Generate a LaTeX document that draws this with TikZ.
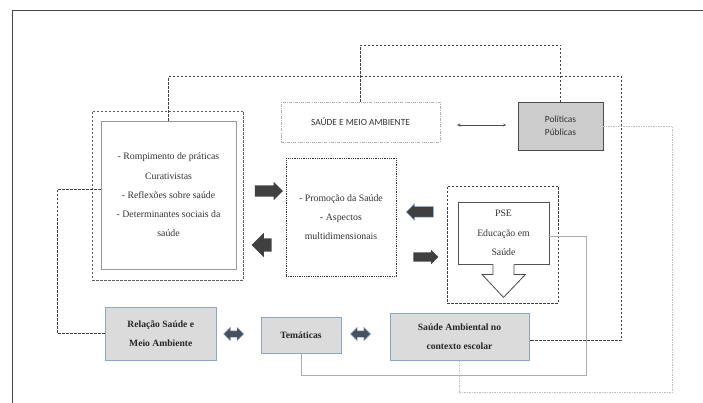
\documentclass[tikz,border=0pt]{standalone}
\usepackage{fontspec}
\setmainfont{Liberation Serif}
\newfontfamily\calfont{Carlito}
\usetikzlibrary{shapes.arrows}
\definecolor{txtgray}{HTML}{333333}
\definecolor{bluegray}{HTML}{8EA6C4}
\definecolor{slate}{HTML}{46505E}
\begin{document}
\begin{tikzpicture}[x=1pt,y=-1pt,
		solidbox/.style={draw=gray!80,line width=0.8pt,inner sep=0pt},
		outerbox/.style={draw=gray!75!black,dashed,dash pattern=on 2.5pt off 1.5pt,inner sep=0pt},
		textbox/.style={align=center,text=txtgray,font=\fontsize{9.8}{19.3}\selectfont},
		graybox/.style={draw=bluegray,fill=gray!28,line width=1pt,inner sep=0pt,align=center,
			font=\fontsize{9.6}{19}\selectfont\bfseries,text=black!85},
		linkdash/.style={black!75,dashed,dash pattern=on 2.5pt off 1.5pt},
		fatarrow/.style={single arrow,fill=black!75,inner xsep=0pt,single arrow head indent=0pt},
		twoarrow/.style={double arrow,fill=slate,draw=bluegray,line width=0.4pt,inner xsep=0pt,
			minimum height=20pt,inner ysep=3pt,double arrow head extend=3.5pt}]
	\useasboundingbox (0,0) rectangle (703,403);
	% frame
	\draw[gray!55!black,line width=0.8pt] (12.3,403) -- (12.3,10.3) -- (703,10.3);

	% left column
	\node[outerbox,minimum width=151pt,minimum height=169pt] (outA) at (167.7,195.3) {};
	\node[solidbox,textbox,minimum width=135pt,minimum height=148pt] (inA) at (168.5,195)
		{- Rompimento de práticas\\Curativistas\\- Reflexões sobre saúde\\- Determinantes sociais da\\saúde};

	% top row
	\node[draw=gray!60,dash pattern=on 3pt off 1.2pt on 0.8pt off 1.2pt,inner sep=0pt,
		minimum width=159pt,minimum height=40pt,text=black!80,font=\calfont\fontsize{9.4}{12}\selectfont]
		(sma) at (360.5,122) {SAÚDE E MEIO AMBIENTE};
	\node[draw=gray!60!black,fill=gray!40,line width=0.8pt,inner sep=0pt,align=center,
		minimum width=85pt,minimum height=48pt,text=black!80,font=\calfont\fontsize{9.4}{12.5}\selectfont]
		(pol) at (560.5,126) {Políticas\\Públicas};
	\draw[black!70,<->,>=stealth] (sma.east) ++(17,3) coordinate (d1) -- ++(49,0) coordinate (d2);

	% middle
	\node[draw=black!80,dash pattern=on 1pt off 0.8pt,textbox,inner sep=0pt,
		minimum width=110pt,minimum height=118pt] (promo) at (341,217)
		{- Promoção da Saúde\\- Aspectos\\multidimensionais};

	\node[outerbox,draw=black!75,minimum width=111pt,minimum height=117pt] (outPSE) at (502.5,244.5) {};
	\node[solidbox,draw=gray!65!black,textbox,minimum width=91pt,minimum height=62pt] (inPSE) at (503.5,233)
		{PSE\\Educação em\\Saúde};
	% hollow arrow under PSE
	\fill[white] ([xshift=-10.5pt,yshift=1pt]inPSE.south) -- ++(0,11) -- ++(-11,0) -- ++(21.5,23)
		-- ++(22,-23) -- ++(-11.5,0) -- ++(0,-11) -- cycle;
	\draw[gray!60!black,line width=0.8pt] ([xshift=-10.5pt]inPSE.south) -- ++(0,10) -- ++(-11,0)
		-- ++(21.5,23) -- ++(22,-23) -- ++(-11.5,0) -- ++(0,-10);

	% block arrows
	\node[fatarrow,minimum height=28pt,inner ysep=5.5pt,single arrow head extend=3.5pt] (ar1) at (266,191) {};
	\node[fatarrow,shape border rotate=180,minimum height=20pt,inner ysep=6.5pt,single arrow head extend=5.5pt] (ar2) at (265,245) {};
	\node[fatarrow,draw=bluegray,line width=0.5pt,shape border rotate=180,minimum height=27pt,inner ysep=5pt,single arrow head extend=3pt] (ar3) at (422.5,212) {};
	\node[fatarrow,minimum height=25pt,inner ysep=4.5pt,single arrow head extend=2.5pt] (ar4) at (423.5,257) {};

	% bottom row
	\node[graybox,minimum width=111.5pt,minimum height=53pt] (rel) at (160.8,333.5) {Relação Saúde e\\Meio Ambiente};
	\node[graybox,minimum width=80pt,minimum height=36pt] (tem) at (301,335) {Temáticas};
	\node[graybox,minimum width=139pt,minimum height=47pt] (amb) at (459.5,336.5) {Saúde Ambiental no\\contexto escolar};
	\node[twoarrow] (da1) at (233.7,334) {};
	\node[twoarrow] (da2) at (360.5,334) {};

	% links
	\coordinate (gcorner) at (672.5,392.7);
	\coordinate (scorner) at (586,375.7);
	\draw[linkdash] ([yshift=6pt]inA.west) -- ++(-43,0) |- (rel.west);
	\draw[linkdash] (inA.north) -- ++(0,-44) -| ([xshift=92pt,yshift=-3.5pt]amb.east) -- ([yshift=-3.5pt]amb.east);
	\draw[linkdash] (sma.north) -- ++(0,-57) -| (pol.north);
	\draw[gray!50,line width=0.8pt,dash pattern=on 1.5pt off 1pt] (pol.east) -| (gcorner) -| (amb.south);
	\draw[gray!65,line width=0.7pt] ([yshift=-3pt]inPSE.east) -| (scorner) -| (tem.south);
\end{tikzpicture}
\end{document}
